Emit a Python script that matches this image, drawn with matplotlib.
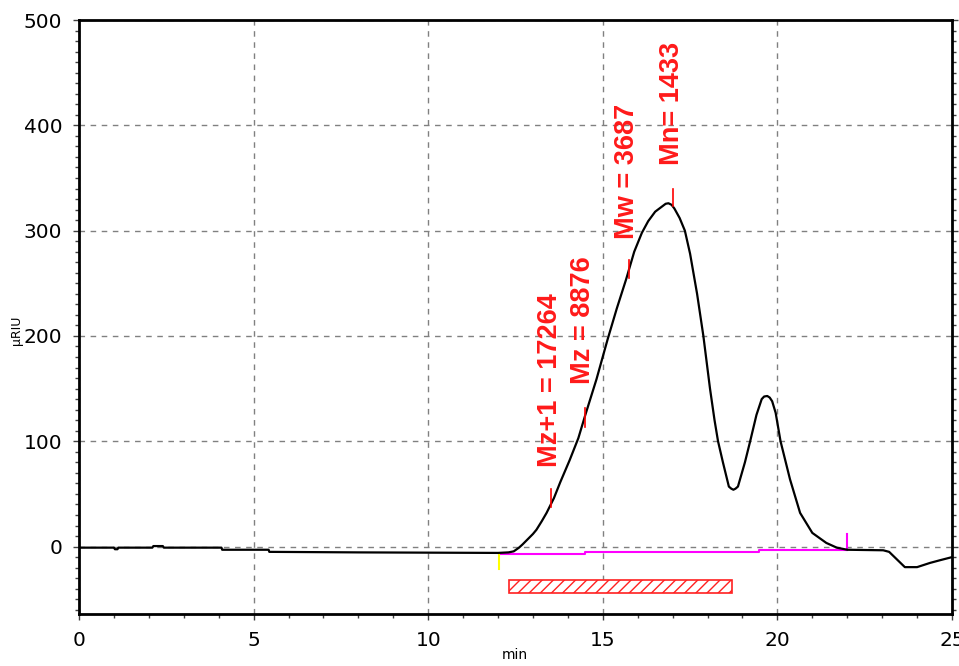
import matplotlib
matplotlib.use("Agg")
import matplotlib.pyplot as plt
from matplotlib.ticker import MultipleLocator
from matplotlib.patches import Rectangle

# ---- data ----
time_min = [0.0, 1.0, 1.03, 1.1, 1.13, 2.1, 2.13, 2.4, 2.43, 4.08, 4.1, 5.43, 5.45, 8.0,
            12.0, 12.3, 12.45, 12.6, 12.7, 12.85, 13.0, 13.1, 13.25, 13.39, 13.6, 13.78,
            14.05, 14.3, 14.49, 14.82, 15.14, 15.4, 15.67, 15.9, 16.12, 16.3, 16.5, 16.7,
            16.8, 16.88, 16.97, 17.05, 17.2, 17.35, 17.5, 17.7, 17.88, 18.07, 18.2, 18.3,
            18.44, 18.61, 18.68, 18.74, 18.8, 18.87, 19.07, 19.22, 19.4, 19.55, 19.62,
            19.71, 19.78, 19.85, 19.95, 20.09, 20.36, 20.65, 21.0, 21.4, 21.7,
            22.0, 23.03, 23.2, 23.65, 24.0, 24.37, 24.65, 25.0]
signal_uriu = [-1, -1, -2.5, -2.5, -1, -1, 0.5, 0.5, -1, -1, -3, -3, -5, -5.5,
               -6, -5.5, -4.5, -1, 2, 7, 12, 16, 24, 32, 46, 61,
               82, 103, 124, 159, 197, 226, 254, 280, 298, 309, 318, 323,
               325.5, 326, 324.5, 321, 312, 300, 278, 240, 200, 150, 120, 100,
               80, 57, 55, 54, 55, 57, 80, 100, 125, 140, 142.5,
               143, 141.5, 138, 127, 100, 64, 32, 13, 3.5, -1,
               -3, -3.5, -5, -19.5, -19.5, -15.5, -13, -10]

baseline_x = [12.03, 14.5, 14.5, 19.47, 19.47, 22.0]
baseline_y = [-6.7, -6.7, -5, -5, -3.5, -3.5]
start_mark = (12.03, -7, -21)
end_mark = (22.0, -3.5, 12)

mark_names = ["Mz+1 = 17264", "Mz = 8876", "Mw = 3687", "Mn= 1433"]
mark_x = [13.53, 14.49, 15.75, 17.0]
mark_y0 = [38, 114, 255, 323]
mark_y1 = [55, 132, 272, 340]
label_x = [13.5, 14.42, 15.7, 16.98]
label_y = [76, 154, 292, 362]

range_start, range_end = 12.32, 18.71
range_low, range_high = -44.5, -32

# ---- figure ----
fig = plt.figure(figsize=(9.59, 6.66), dpi=100)
ax = fig.add_axes([79/959, 52/666, (952-79)/959, (614-20)/666])

ax.set_xlim(0, 25)
ax.set_ylim(-64, 500)

ax.grid(True, which="major", color="#808080", linestyle=(0, (4, 4)), linewidth=1.0)
ax.set_axisbelow(True)

ax.plot(time_min, signal_uriu, color="black", linewidth=1.6, zorder=3)
ax.plot(baseline_x, baseline_y, color="#ff00ff", linewidth=1.5, zorder=2)
ax.plot([start_mark[0]] * 2, start_mark[1:], color="#ffff00", linewidth=1.5, zorder=2)
ax.plot([end_mark[0]] * 2, end_mark[1:], color="#ff00ff", linewidth=1.5, zorder=2)

for mx, y0, y1 in zip(mark_x, mark_y0, mark_y1):
    ax.plot([mx, mx], [y0, y1], color="red", linewidth=1.2, zorder=4)
for name, lx, ly in zip(mark_names, label_x, label_y):
    ax.text(lx, ly, name, rotation=90, ha="center", va="bottom", color="#ff1a1a",
            fontsize=19.5, fontweight="bold", family=["Liberation Sans", "DejaVu Sans"],
            zorder=5)

plt.rcParams["hatch.color"] = "#ff2020"
ax.add_patch(Rectangle((range_start, range_low), range_end - range_start,
                       range_high - range_low, facecolor="white", edgecolor="#ff2020",
                       hatch="///", linewidth=1.2, zorder=3))

ax.xaxis.set_major_locator(MultipleLocator(5))
ax.xaxis.set_minor_locator(MultipleLocator(1))
ax.yaxis.set_major_locator(MultipleLocator(100))
ax.yaxis.set_minor_locator(MultipleLocator(10))

ax.tick_params(axis="both", which="major", direction="out", length=4, width=1,
               color="#404040", pad=8)
ax.tick_params(axis="both", which="minor", direction="out", length=3, width=1,
               color="#404040")
ax.tick_params(axis="y", which="both", right=True)
for lab in ax.get_xticklabels() + ax.get_yticklabels():
    lab.set_fontfamily("DejaVu Sans")
    lab.set_fontsize(14.5)

for sp in ax.spines.values():
    sp.set_linewidth(2)
    sp.set_color("black")

fig.text(515/959, 1 - 662/666, "min", ha="center", va="bottom", fontsize=10,
         family="DejaVu Sans")
fig.text(16/959, 1 - 330/666, "μRIU", ha="center", va="center", rotation=90,
         fontsize=9, family="DejaVu Sans")

fig.savefig("out.png", dpi=100)
